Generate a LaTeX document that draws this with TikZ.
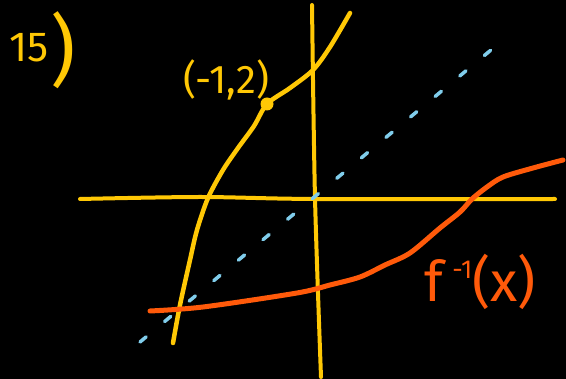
\documentclass[tikz,border=0pt]{standalone}
\usepackage{fontspec}
\setmainfont{Fira Sans}
\definecolor{penyellow}{HTML}{FFC805}
\definecolor{penorange}{HTML}{FF5A0A}
\definecolor{penblue}{HTML}{80CDEB}
\begin{document}
\begin{tikzpicture}[
  x=1pt, y=-1pt,
  ink/.style={line width=4pt, line cap=round, line join=round},
  axisline/.style={ink, draw=penyellow},
  graphline/.style={ink, line width=4.5pt, draw=penyellow},
  inverseline/.style={ink, line width=5pt, draw=penorange},
  mirrorline/.style={ink, line width=3.5pt, draw=penblue, dash pattern=on 8pt off 24pt},
  note/.style={inner sep=0pt, text=penyellow}
]
\useasboundingbox[fill=black] (0,0) rectangle (566,379);
% axes
\draw[axisline] plot[smooth] coordinates {(80,199) (200,197) (315,199) (555,199)};
\draw[axisline] plot[smooth] coordinates {(312,5) (315,198) (321,377)};
% f(x)
\draw[graphline] plot[smooth] coordinates {(173,343) (180,305) (190,260) (197,230) (208,198)
  (223,170) (238,148) (254,126) (267,104) (290,88) (313,70) (330,47) (350,13)};
\fill[penyellow] (267,104) circle (6.5pt);
% f^{-1}(x)
\draw[inverseline] plot[smooth] coordinates {(150,311) (203,307) (297,293) (330,285) (360,277)
  (385,265) (410,253) (440,228) (460,212) (472,199) (487,187) (503,177) (533,168) (563,160)};
% y = x
\draw[mirrorline] (140,342) -- (497,45);
% labels
\node[note, anchor=base west] (num) at (9,62) {\fontsize{42}{42}\selectfont 15};
\node[note] (close) at (63,50) {\fontsize{78}{78}\selectfont )};
\node[note] (pt) at (226,80) {\fontsize{40}{40}\selectfont (-1,2)};
\node[inner sep=0pt, text=penorange] (inv) at (480,282)
  {\fontsize{56}{56}\selectfont f\,\raisebox{0.42em}{\fontsize{26}{26}\selectfont -1}(x)};
\end{tikzpicture}
\end{document}
